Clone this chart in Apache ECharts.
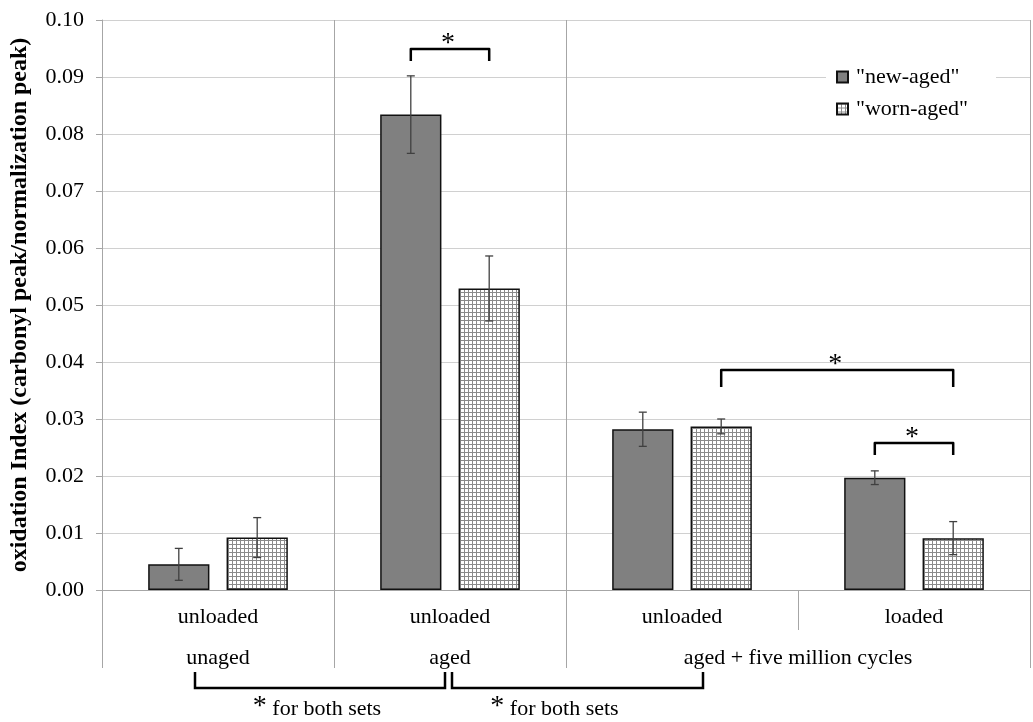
<!DOCTYPE html>
<html>
<head>
<meta charset="utf-8">
<script src="https://cdn.jsdelivr.net/npm/echarts@6/dist/echarts.min.js"></script>
<style>html,body{margin:0;padding:0;background:#fff}#c{width:1033px;height:722px}</style>
</head>
<body>
<div id="c"></div>
<script>
// ---- data ----
const categories = ['unloaded', 'unloaded', 'unloaded', 'loaded'];
const seriesNames = ['"new-aged"', '"worn-aged"'];
const newAged = [0.0045, 0.0834, 0.0282, 0.0197];
const newAgedErr = [0.0028, 0.0068, 0.0030, 0.0012];
const wornAged = [0.0092, 0.0529, 0.0287, 0.0091];
const wornAgedErr = [0.0035, 0.0057, 0.0013, 0.0029];
const yTicks = [0, 0.01, 0.02, 0.03, 0.04, 0.05, 0.06, 0.07, 0.08, 0.09, 0.10];
const groupLabels = ['unaged', 'aged', 'aged + five million cycles'];
const groupSpans = [[0, 0], [1, 1], [2, 3]];
// significance comparisons within plot: [category, seriesIndex] -> [category, seriesIndex], bracket level
const sigBrackets = [
  { from: [1, 0], to: [1, 1], level: 0.0949 },
  { from: [2, 1], to: [3, 1], level: 0.0386 },
  { from: [3, 0], to: [3, 1], level: 0.0258 }
];
const sigText = '*';
// comparisons between groups shown below the axis: [groupIndex, groupIndex]
const groupComparisons = [[0, 1], [1, 2]];
const groupComparisonText = 'for both sets';

// ---- styling ----
const FONT = '"Liberation Serif", "Times New Roman", serif';
const BAR_W = 0.264;      // fraction of band
const BAR_GAP = 0.28;     // fraction of bar width
const OFFSET = (BAR_W + BAR_W * BAR_GAP) / 2;

const pat = document.createElement('canvas');
pat.width = 4; pat.height = 4;
const pc = pat.getContext('2d');
pc.fillStyle = '#ffffff'; pc.fillRect(0, 0, 4, 4);
pc.fillStyle = '#8a8a8a'; pc.fillRect(0, 0, 4, 1); pc.fillRect(0, 0, 1, 4);

const chart = echarts.init(document.getElementById('c'), null, { renderer: 'canvas' });

const errData = [];
newAged.forEach((v, i) => errData.push([i - OFFSET, v, newAgedErr[i]]));
wornAged.forEach((v, i) => errData.push([i + OFFSET, v, wornAgedErr[i]]));

function seriesX(c, s) { return c + (s === 0 ? -OFFSET : OFFSET); }

const option = {
  backgroundColor: '#fff',
  animation: false,
  textStyle: { fontFamily: FONT, color: '#000' },
  grid: { left: 100, right: 3, top: 20, bottom: 132, containLabel: false },
  legend: {
    orient: 'vertical',
    left: 826, top: 60,
    padding: [6, 28, 6, 10],
    backgroundColor: '#fff',
    itemWidth: 11, itemHeight: 11, itemGap: 10,
    icon: 'rect',
    textStyle: { fontFamily: FONT, fontSize: 22, color: '#000', padding: [0, 0, 0, 3] },
    data: seriesNames
  },
  xAxis: [{
    type: 'category',
    data: categories,
    axisLine: { lineStyle: { color: '#a6a6a6', width: 1 } },
    axisTick: { show: true, length: 40, lineStyle: { color: '#a6a6a6' } },
    axisLabel: { fontFamily: FONT, fontSize: 22, color: '#000', margin: 16 },
    splitLine: { show: false }
  }, {
    type: 'value', min: -0.5, max: 3.5, show: false,
    splitLine: { show: false }
  }],
  yAxis: {
    type: 'value', min: 0, max: 0.1, interval: 0.01,
    name: 'oxidation Index (carbonyl peak/normalization peak)',
    nameLocation: 'middle', nameGap: 70, nameRotate: 90,
    nameTextStyle: { fontFamily: FONT, fontSize: 24, fontWeight: 'bold', color: '#000' },
    axisLine: { show: true, onZero: false, lineStyle: { color: '#a6a6a6' } },
    axisTick: { show: true, length: 6, lineStyle: { color: '#a6a6a6' } },
    axisLabel: { fontFamily: FONT, fontSize: 22, color: '#000', margin: 18,
      formatter: v => v.toFixed(2) },
    splitLine: { lineStyle: { color: '#d0d0d0' } }
  },
  series: [{
    name: seriesNames[0], type: 'bar', data: newAged,
    barWidth: (BAR_W * 100) + '%', barGap: (BAR_GAP * 100) + '%',
    itemStyle: { color: '#808080', borderColor: '#111', borderWidth: 1.5 }
  }, {
    name: seriesNames[1], type: 'bar', data: wornAged,
    barWidth: (BAR_W * 100) + '%', barGap: (BAR_GAP * 100) + '%',
    itemStyle: { color: { image: pat, repeat: 'repeat' }, borderColor: '#111', borderWidth: 1.5 }
  }, {
    // error bars
    type: 'custom', xAxisIndex: 1, yAxisIndex: 0, z: 5,
    data: errData,
    renderItem: (params, api) => {
      const x = api.value(0), v = api.value(1), e = api.value(2);
      const top = api.coord([x, v + e]);
      const bot = api.coord([x, v - e]);
      const cap = 4;
      const st = { stroke: '#404040', lineWidth: 1.3 };
      return { type: 'group', children: [
        { type: 'line', shape: { x1: top[0], y1: top[1], x2: bot[0], y2: bot[1] }, style: st },
        { type: 'line', shape: { x1: top[0] - cap, y1: top[1], x2: top[0] + cap, y2: top[1] }, style: st },
        { type: 'line', shape: { x1: bot[0] - cap, y1: bot[1], x2: bot[0] + cap, y2: bot[1] }, style: st }
      ]};
    }
  }, {
    // significance brackets inside plot
    type: 'custom', xAxisIndex: 1, yAxisIndex: 0, z: 6, clip: false,
    data: sigBrackets.map((b, i) => [i]),
    renderItem: (params, api) => {
      const b = sigBrackets[api.value(0)];
      const p1 = api.coord([seriesX(b.from[0], b.from[1]), b.level]);
      const p2 = api.coord([seriesX(b.to[0], b.to[1]), b.level]);
      const drop = b.from[0] === b.to[0] ? 12 : 17;
      return { type: 'group', children: [
        { type: 'polyline', shape: { points: [[p1[0], p1[1] + drop], [p1[0], p1[1]], [p2[0], p2[1]], [p2[0], p2[1] + drop]] },
          style: { stroke: '#000', lineWidth: 2.5, fill: null, lineJoin: 'round' } },
        { type: 'text', x: (p1[0] + p2[0]) / 2 - 2, y: p1[1] + 9,
          style: { text: sigText, font: '28px ' + FONT, fill: '#000', textAlign: 'center', textVerticalAlign: 'bottom' } }
      ]};
    }
  }, {
    // group separators, group labels and between-group comparisons
    type: 'custom', xAxisIndex: 1, yAxisIndex: 0, z: 4, clip: false,
    data: [[0]],
    renderItem: (params, api) => {
      const children = [];
      const y0 = api.coord([0, 0])[1];
      const yTop = api.coord([0, 0.1])[1];
      const lineSt = { stroke: '#a6a6a6', lineWidth: 1 };
      const bounds = [];
      groupSpans.forEach(s => {
        [s[0] - 0.5, s[1] + 0.5].forEach(b => { if (bounds.indexOf(b) < 0) bounds.push(b); });
      });
      bounds.forEach(b => {
        const x = Math.round(api.coord([b, 0])[0]) + 0.5;
        children.push({ type: 'line', shape: { x1: x, y1: yTop, x2: x, y2: y0 + 78 }, style: lineSt });
      });
      const gx = groupSpans.map(s => api.coord([(s[0] + s[1]) / 2, 0])[0]);
      groupLabels.forEach((t, i) => {
        children.push({ type: 'text', x: gx[i], y: y0 + 68,
          style: { text: t, font: '22px ' + FONT, fill: '#000', textAlign: 'center', textVerticalAlign: 'middle' } });
      });
      groupComparisons.forEach((gc, k) => {
        const xa = gx[gc[0]] + (k === 0 ? -23 : 2);
        const xb = (k === 0 ? gx[gc[1]] - 5 : api.coord([groupSpans[gc[1]][0], 0])[0] + 21);
        children.push({ type: 'polyline',
          shape: { points: [[xa, y0 + 82], [xa, y0 + 98], [xb, y0 + 98], [xb, y0 + 82]] },
          style: { stroke: '#000', lineWidth: 2.5, fill: null } });
        const cx = (xa + xb) / 2 - (k === 0 ? 3 : 23);
        children.push({ type: 'text', x: cx, y: y0 + 119,
          style: { text: '{a|*} ' + groupComparisonText, textAlign: 'center', textVerticalAlign: 'middle',
            font: '22px ' + FONT, fill: '#000',
            rich: { a: { fontSize: 28, fontFamily: FONT, fill: '#000', padding: [0, 0, 4, 0] } } } });
      });
      return { type: 'group', children };
    }
  }]
};
chart.setOption(option);
</script>
</body>
</html>
